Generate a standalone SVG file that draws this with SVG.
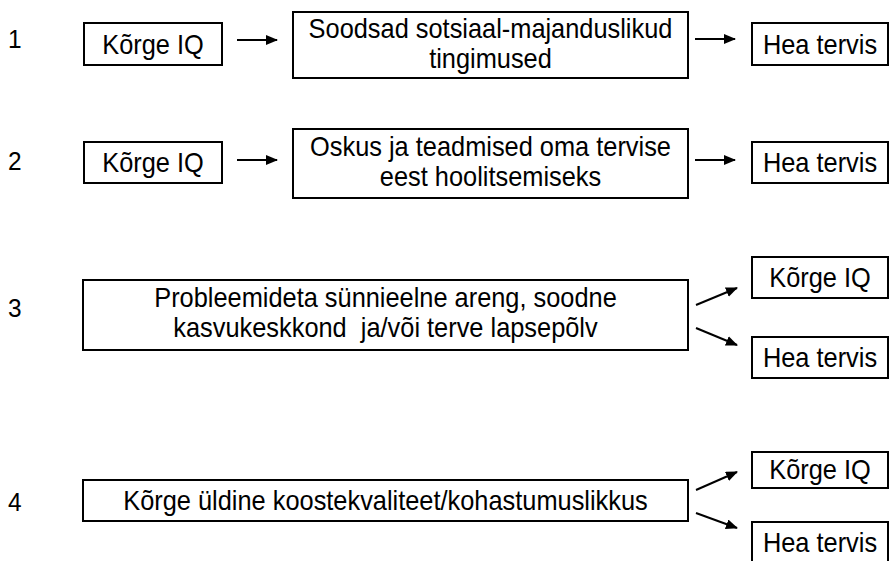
<svg xmlns="http://www.w3.org/2000/svg" width="891" height="561" viewBox="0 0 891 561">
  <style>
    .box { fill: #ffffff; stroke: #000000; stroke-width: 2; }
    .lbl { font-family: "Liberation Sans", Arial, sans-serif; font-size: 27px; fill: #000000; text-anchor: middle; }
    .num { font-family: "Liberation Sans", Arial, sans-serif; font-size: 26px; fill: #000000; }
    .conn { stroke: #000000; stroke-width: 2; fill: none; marker-end: url(#arrow); }
  </style>
  <defs>
    <marker id="arrow" viewBox="0 0 12 10" refX="11" refY="5" markerWidth="6" markerHeight="5" orient="auto" markerUnits="strokeWidth">
      <path d="M0,0 L12,5 L0,10 z" fill="#000000"/>
    </marker>
  </defs>
  <rect width="891" height="561" fill="#ffffff"/>

  <!-- row numbers (glyphs slightly condensed) -->
  <g id="numbers">
    <text class="num" transform="translate(8,48) scale(0.94,1)">1</text>
    <text class="num" transform="translate(8,170) scale(0.94,1)">2</text>
    <text class="num" transform="translate(8,317) scale(0.94,1)">3</text>
    <text class="num" transform="translate(8,511) scale(0.94,1)">4</text>
  </g>

  <!-- row 1 -->
  <g id="r1-iq">
    <rect class="box" x="84" y="23" width="138" height="42"/>
    <text class="lbl" transform="translate(153,54) scale(0.94,1)">Kõrge IQ</text>
  </g>
  <g id="r1-soc">
    <rect class="box" x="293" y="12" width="395" height="66"/>
    <text class="lbl" transform="translate(490.5,38) scale(0.94,1)">Soodsad sotsiaal-majanduslikud</text>
    <text class="lbl" transform="translate(490.5,68) scale(0.94,1)">tingimused</text>
  </g>
  <g id="r1-health">
    <rect class="box" x="752" y="23" width="136" height="42"/>
    <text class="lbl" transform="translate(820,54) scale(0.94,1)">Hea tervis</text>
  </g>

  <!-- row 2 -->
  <g id="r2-iq">
    <rect class="box" x="84" y="142" width="138" height="41"/>
    <text class="lbl" transform="translate(153,172) scale(0.94,1)">Kõrge IQ</text>
  </g>
  <g id="r2-skill">
    <rect class="box" x="293" y="129" width="395" height="69"/>
    <text class="lbl" transform="translate(490.5,156) scale(0.94,1)">Oskus ja teadmised oma tervise</text>
    <text class="lbl" transform="translate(490.5,186) scale(0.94,1)">eest hoolitsemiseks</text>
  </g>
  <g id="r2-health">
    <rect class="box" x="752" y="142" width="136" height="41"/>
    <text class="lbl" transform="translate(820,172) scale(0.94,1)">Hea tervis</text>
  </g>

  <!-- row 3 -->
  <g id="r3-dev">
    <rect class="box" x="83" y="280" width="605" height="70"/>
    <text class="lbl" transform="translate(385.5,307) scale(0.94,1)">Probleemideta sünnieelne areng, soodne</text>
    <text class="lbl" transform="translate(385.5,337) scale(0.94,1)" xml:space="preserve">kasvukeskkond  ja/või terve lapsepõlv</text>
  </g>
  <g id="r3-iq">
    <rect class="box" x="752" y="257" width="136" height="41"/>
    <text class="lbl" transform="translate(820,287) scale(0.94,1)">Kõrge IQ</text>
  </g>
  <g id="r3-health">
    <rect class="box" x="752" y="337" width="136" height="41"/>
    <text class="lbl" transform="translate(820,367) scale(0.94,1)">Hea tervis</text>
  </g>

  <!-- row 4 -->
  <g id="r4-fit">
    <rect class="box" x="83" y="480" width="605" height="41"/>
    <text class="lbl" transform="translate(385.5,510) scale(0.94,1)">Kõrge üldine koostekvaliteet/kohastumuslikkus</text>
  </g>
  <g id="r4-iq">
    <rect class="box" x="752" y="452" width="136" height="36"/>
    <text class="lbl" transform="translate(820,479) scale(0.94,1)">Kõrge IQ</text>
  </g>
  <g id="r4-health">
    <rect class="box" x="752" y="522" width="136" height="45"/>
    <text class="lbl" transform="translate(820,552) scale(0.94,1)">Hea tervis</text>
  </g>

  <!-- connectors -->
  <g id="connectors">
    <line class="conn" x1="237" y1="40" x2="277" y2="40"/>
    <line class="conn" x1="695" y1="39" x2="735" y2="39"/>
    <line class="conn" x1="237" y1="160" x2="277" y2="160"/>
    <line class="conn" x1="695" y1="160" x2="735" y2="160"/>
    <line class="conn" x1="696" y1="305" x2="737" y2="288"/>
    <line class="conn" x1="696" y1="328" x2="737" y2="345"/>
    <line class="conn" x1="696" y1="490" x2="737" y2="472"/>
    <line class="conn" x1="696" y1="513" x2="737" y2="528"/>
  </g>
</svg>
